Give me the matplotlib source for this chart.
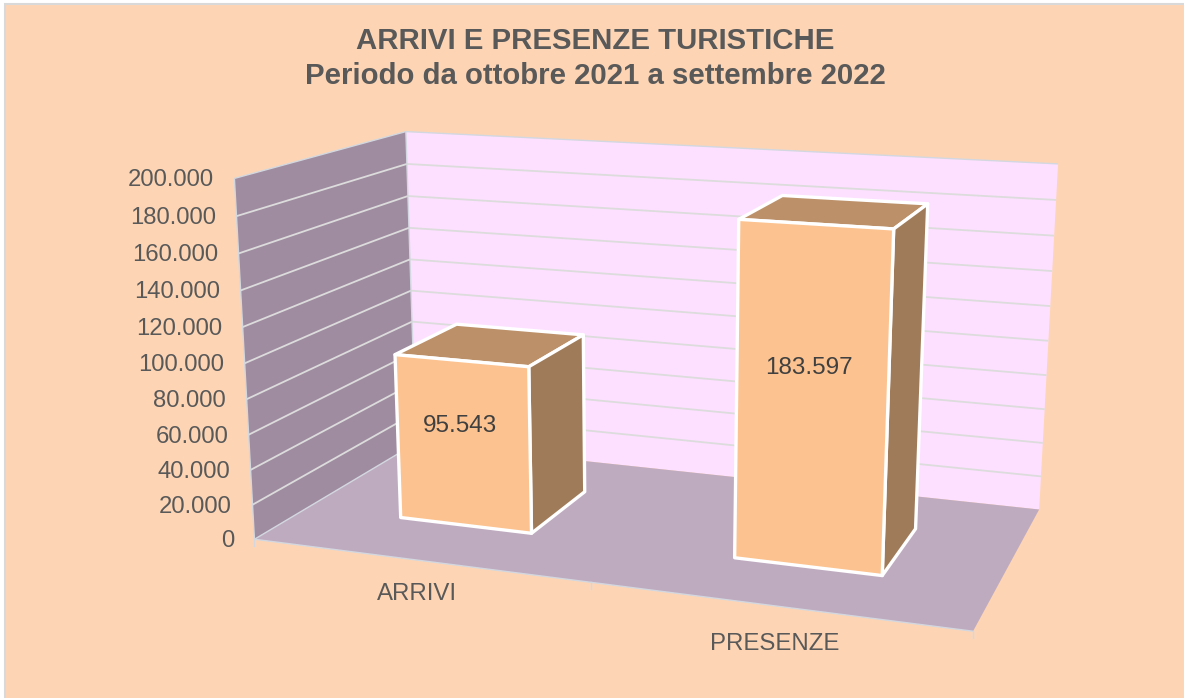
import matplotlib
matplotlib.use("Agg")
import matplotlib.pyplot as plt
from matplotlib.patches import Polygon, Rectangle
import numpy as np

categorie = ["ARRIVI", "PRESENZE"]
valori = [95543, 183597]
etichette_valori = ["95.543", "183.597"]
tick_valori = [0, 20000, 40000, 60000, 80000, 100000, 120000, 140000, 160000, 180000, 200000]
tick_etichette = ["0", "20.000", "40.000", "60.000", "80.000", "100.000", "120.000", "140.000", "160.000", "180.000", "200.000"]
titolo = "ARRIVI E PRESENZE TURISTICHE\nPeriodo da ottobre 2021 a settembre 2022"
y_max = 200000

# angoli della scatola 3D: (x, profondita, altezza) -> pixel del grafico
angoli_mondo = [(0, 0, 0), (1, 0, 0), (1, 1, 0), (0, 1, 0), (0, 0, 1), (0, 1, 1), (1, 1, 1)]
angoli_pixel = [(254.3, 538.3), (973.3, 631.7), (1039, 509), (416, 444), (234.3, 179), (406, 131), (1058, 164)]

SFONDO = "#FDD5B5"
BORDO = "#D9D9D9"
PARETE_SX = "#A08CA0"
PARETE_FONDO = "#FDE0FF"
PAVIMENTO = "#BFABC0"
BAR_FRONTE = "#FCC28F"
BAR_SOPRA = "#BC9069"
BAR_LATO = "#A07B59"
GRIGLIA = "#DCDCDC"
SPIGOLO = "#D3D8E0"
TESTO = "#595959"
TESTO_DATI = "#404040"

plt.rcParams["font.family"] = ["Liberation Sans", "DejaVu Sans"]


def calcola_camera(mondo, pixel):
    A, b = [], []
    for (x, y, z), (px, py) in zip(mondo, pixel):
        A.append([x, y, z, 1, 0, 0, 0, 0, -px * x, -px * y, -px * z])
        b.append(px)
        A.append([0, 0, 0, 0, x, y, z, 1, -py * x, -py * y, -py * z])
        b.append(py)
    sol = np.linalg.lstsq(np.array(A, float), np.array(b, float), rcond=None)[0]
    return np.append(sol, 1).reshape(3, 4)


P = calcola_camera(angoli_mondo, angoli_pixel)


def proietta(u, v, w):
    q = P @ np.array([u, v, w, 1.0])
    return q[0] / q[2], q[1] / q[2]


def faccia(ax, punti, colore, bordo="none", lw=0, z=1):
    ax.add_patch(Polygon([proietta(*p) for p in punti], closed=True, facecolor=colore,
                         edgecolor=bordo, linewidth=lw, joinstyle="round", zorder=z))


def linea(ax, a, b, colore, lw, z=2):
    pa, pb = proietta(*a), proietta(*b)
    ax.plot([pa[0], pb[0]], [pa[1], pb[1]], color=colore, linewidth=lw, zorder=z, solid_capstyle="butt")


fig = plt.figure(figsize=(11.84, 6.98), dpi=100, facecolor="white")
ax = fig.add_axes([0, 0, 1, 1])
ax.set_xlim(0, 1184)
ax.set_ylim(698, 0)
ax.axis("off")

# sfondo con il bordo grigio che si vede solo in alto e a sinistra
ax.add_patch(Rectangle((5, 4), 1190, 710, facecolor=SFONDO, edgecolor=BORDO, linewidth=1.5, zorder=0))

faccia(ax, [(0, 0, 0), (0, 1, 0), (0, 1, 1), (0, 0, 1)], PARETE_SX)
faccia(ax, [(0, 1, 0), (1, 1, 0), (1, 1, 1), (0, 1, 1)], PARETE_FONDO)
faccia(ax, [(0, 0, 0), (1, 0, 0), (1, 1, 0), (0, 1, 0)], PAVIMENTO)

# griglia
for val in tick_valori[1:-1]:
    w = val / y_max
    linea(ax, (0, 0, w), (0, 1, w), GRIGLIA, 1.3)
    linea(ax, (0, 1, w), (1, 1, w), GRIGLIA, 1.3)

# spigoli chiari della scatola
for a, b in [((0, 0, 1), (0, 1, 1)), ((0, 1, 1), (1, 1, 1)), ((0, 0, 0), (0, 0, 1)),
             ((0, 1, 0), (0, 1, 1)), ((0, 0, 0), (1, 0, 0)), ((0, 0, 0), (0, 1, 0))]:
    linea(ax, a, b, SPIGOLO, 1.0)

# tacche sotto il pavimento
for u in [0, 0.5, 1]:
    x, y = proietta(u, 0, 0)
    ax.plot([x, x], [y, y + 7], color=SPIGOLO, linewidth=1, zorder=2)

# barre
larghezza = 0.203
v0, v1 = 0.307, 0.709
offset_categoria = [34, 38]
quota_etichetta = [0.61, 0.59]
for i, (cat, val, lab) in enumerate(zip(categorie, valori, etichette_valori)):
    c = (i + 0.5) / len(categorie) - 0.001
    u0, u1 = c - larghezza / 2, c + larghezza / 2
    w = val / y_max
    faccia(ax, [(u0, v0, w), (u1, v0, w), (u1, v1, w), (u0, v1, w)], BAR_SOPRA, "white", 2.4, 3)
    faccia(ax, [(u1, v0, 0), (u1, v1, 0), (u1, v1, w), (u1, v0, w)], BAR_LATO, "white", 2.4, 3)
    faccia(ax, [(u0, v0, 0), (u1, v0, 0), (u1, v0, w), (u0, v0, w)], BAR_FRONTE, "white", 2.4, 4)

    x, y = proietta(c, v0, w * quota_etichetta[i])
    ax.text(x - 3, y, lab, ha="center", va="center", fontsize=17.5, color=TESTO_DATI, zorder=5)
    x, y = proietta(c, 0, 0)
    ax.text(x, y + offset_categoria[i], cat, ha="center", va="center", fontsize=17.3, color=TESTO, zorder=5)

# etichette asse verticale
for val, lab in zip(tick_valori, tick_etichette):
    x, y = proietta(0, 0, val / y_max)
    ax.text(x - 20.5, y + 1.8, lab, ha="right", va="center", fontsize=17.2, color=TESTO, zorder=5)

ax.text(595, 58.5, titolo, ha="center", va="center", fontsize=21.2, fontweight="bold", color=TESTO,
        linespacing=1.36, zorder=5)

fig.savefig("out.png", dpi=100, facecolor="white")
